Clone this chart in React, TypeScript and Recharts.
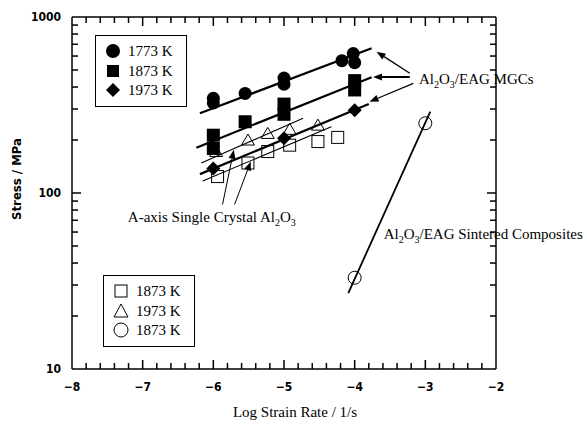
import { ComposedChart, Line, Scatter, XAxis, YAxis, ReferenceLine, ReferenceDot, Label } from 'recharts'

// tick values
const xTicks = [-8, -7, -6, -5, -4, -3, -2]
const xMinorTicks = [
  -7.8, -7.6, -7.4, -7.2, -6.8, -6.6, -6.4, -6.2, -5.8, -5.6, -5.4, -5.2,
  -4.8, -4.6, -4.4, -4.2, -3.8, -3.6, -3.4, -3.2, -2.8, -2.6, -2.4, -2.2,
]
const yTicks = [10, 100, 1000]
const yMinorTicks = [20, 30, 40, 50, 60, 70, 80, 90, 200, 300, 400, 500, 600, 700, 800, 900]

// Al2O3/EAG MGCs
const mgc1773 = [
  { x: -6, y: 345 }, { x: -6, y: 325 }, { x: -5.55, y: 368 }, { x: -5, y: 450 },
  { x: -5, y: 415 }, { x: -4.18, y: 565 }, { x: -4.02, y: 620 }, { x: -4, y: 550 },
]
const mgc1873 = [
  { x: -6, y: 213 }, { x: -6, y: 179 }, { x: -5.55, y: 254 }, { x: -5, y: 320 },
  { x: -5, y: 280 }, { x: -4, y: 435 }, { x: -4, y: 385 },
]
const mgc1973 = [{ x: -6, y: 138 }, { x: -5, y: 205 }, { x: -4, y: 295 }]

// A-axis single crystal
const sc1873 = [
  { x: -5.94, y: 124 }, { x: -5.51, y: 148 }, { x: -5.23, y: 172 },
  { x: -4.92, y: 187 }, { x: -4.52, y: 196 }, { x: -4.24, y: 207 },
]
const sc1973 = [
  { x: -5.96, y: 172 }, { x: -5.51, y: 200 }, { x: -5.23, y: 218 },
  { x: -4.92, y: 230 }, { x: -4.52, y: 243 },
]

// sintered composites
const sint1873 = [{ x: -4, y: 33 }, { x: -3, y: 249 }]

// fitted lines
const fit1773 = [{ x: -6.19, y: 284 }, { x: -3.76, y: 664 }]
const fit1873 = [{ x: -6.24, y: 181 }, { x: -3.76, y: 455 }]
const fit1973 = [{ x: -6.19, y: 128 }, { x: -3.8, y: 320 }]
const fitSc1973 = [{ x: -6.17, y: 148 }, { x: -4.73, y: 266 }]
const fitSc1873 = [{ x: -6.15, y: 117 }, { x: -4.33, y: 238 }]
const fitSint = [{ x: -4.09, y: 27 }, { x: -2.93, y: 290 }]

// annotation arrows [from, to]
const mgcArrows = [
  [{ x: -3.22, y: 479 }, { x: -3.69, y: 635 }],
  [{ x: -3.22, y: 456 }, { x: -3.74, y: 456 }],
  [{ x: -3.17, y: 420 }, { x: -3.79, y: 330 }],
]
const scArrows = [
  [{ x: -5.87, y: 86 }, { x: -5.71, y: 176 }],
  [{ x: -5.7, y: 86 }, { x: -5.47, y: 151 }],
]

const serif = "'Liberation Serif', 'Times New Roman', serif"
const tickFont = "'DejaVu Sans Condensed', 'Liberation Sans Narrow', sans-serif"

const filledCircle = (p: any) => <circle cx={p.cx} cy={p.cy} r={6.5} fill="#000" />
const filledSquare = (p: any) => <rect x={p.cx - 6.5} y={p.cy - 6.5} width={13} height={13} fill="#000" />
const filledDiamond = (p: any) => (
  <polygon points={`${p.cx},${p.cy - 7} ${p.cx + 7},${p.cy} ${p.cx},${p.cy + 7} ${p.cx - 7},${p.cy}`} fill="#000" />
)
const openSquare = (p: any) => (
  <rect x={p.cx - 6} y={p.cy - 6} width={12} height={12} fill="none" stroke="#000" strokeWidth={1} />
)
const openTriangle = (p: any) => (
  <polygon points={`${p.cx},${p.cy - 6} ${p.cx + 6.5},${p.cy + 5} ${p.cx - 6.5},${p.cy + 5}`} fill="none" stroke="#000" strokeWidth={1} />
)
const openCircle = (p: any) => <circle cx={p.cx} cy={p.cy} r={6.5} fill="none" stroke="#000" strokeWidth={1} />

// inward ticks at both ends of a full-span segment
const endTicks = (len: number) => (p: any) => {
  const { x1, y1, x2, y2 } = p
  const d = Math.hypot(x2 - x1, y2 - y1) || 1
  const ux = ((x2 - x1) / d) * len
  const uy = ((y2 - y1) / d) * len
  return (
    <g>
      <line x1={x1} y1={y1} x2={x1 + ux} y2={y1 + uy} stroke="#000" strokeWidth={1.5} />
      <line x1={x2} y1={y2} x2={x2 - ux} y2={y2 - uy} stroke="#000" strokeWidth={1.5} />
    </g>
  )
}
const xSeg = (v: number) => [{ x: v, y: 10 }, { x: v, y: 1000 }]
const ySeg = (v: number) => [{ x: -8, y: v }, { x: -2, y: v }]

const arrow = (w: number) => (p: any) => {
  const { x1, y1, x2, y2 } = p
  const a = Math.atan2(y2 - y1, x2 - x1)
  const L = 9
  const W = 3.5
  const bx = x2 - L * Math.cos(a)
  const by = y2 - L * Math.sin(a)
  const pts = `${x2},${y2} ${bx + W * Math.sin(a)},${by - W * Math.cos(a)} ${bx - W * Math.sin(a)},${by + W * Math.cos(a)}`
  return (
    <g>
      <line x1={x1} y1={y1} x2={bx} y2={by} stroke="#000" strokeWidth={w} />
      <polygon points={pts} fill="#000" />
    </g>
  )
}

// Al2O3 with subscripts, then the rest of the label
const chem = (pre: string, rest: string) => (p: any) => (
  <text x={p.cx} y={p.cy} fontFamily={serif} fontSize={15} fill="#000">
    {pre}Al<tspan dy={4} fontSize={10}>2</tspan>
    <tspan dy={-4}>O</tspan>
    <tspan dy={4} fontSize={10}>3</tspan>
    <tspan dy={-4}>{rest}</tspan>
  </text>
)

const frame = { stroke: '#000', strokeWidth: 1.5 }
const tickStyle = { fontFamily: tickFont, fontSize: 12, fontWeight: 'bold', fill: '#000' }
const minus = (v: number) => String(v).replace('-', '\u2212')

function LegendBox({ left, top, items }: { left: number; top: number; items: [string, string][] }) {
  return (
    <div style={{ position: 'absolute', left, top, width: 92, height: 72, border: '1px solid #000', boxSizing: 'border-box', background: '#fff' }}>
      {items.map(([sym, text], i) => (
        <div key={i} style={{ position: 'absolute', left: 8, top: 6 + i * 19.5, height: 18, display: 'flex', alignItems: 'center' }}>
          <svg width={18} height={18}>
            {sym === 'fc' && <circle cx={9} cy={9} r={7} fill="#000" />}
            {sym === 'fs' && <rect x={3} y={3} width={12} height={12} fill="#000" />}
            {sym === 'fd' && <polygon points="9,2 16,9 9,16 2,9" fill="#000" />}
            {sym === 'os' && <rect x={3} y={3} width={12} height={12} fill="none" stroke="#000" />}
            {sym === 'ot' && <polygon points="9,2 16,15 2,15" fill="none" stroke="#000" />}
            {sym === 'oc' && <circle cx={9} cy={9} r={7} fill="none" stroke="#000" />}
          </svg>
          <span style={{ marginLeft: 6, fontFamily: serif, fontSize: 15, lineHeight: '18px' }}>{text}</span>
        </div>
      ))}
    </div>
  )
}

export default function App() {
  return (
    <div style={{ position: 'absolute', left: 0, top: 0, width: 587, height: 429, background: '#fff' }}>
      <ComposedChart width={587} height={429} margin={{ top: 17, right: 91, bottom: 0, left: 0 }}>
        <XAxis
          dataKey="x"
          type="number"
          domain={[-8, -2]}
          ticks={xTicks}
          allowDataOverflow
          tickLine={false}
          axisLine={frame}
          tickMargin={7}
          tick={tickStyle}
          tickFormatter={minus}
          height={60}
        >
          <Label
            content={({ viewBox }: any) => (
              <text x={viewBox.x + viewBox.width / 2 + 11} y={viewBox.y + 48} textAnchor="middle" fontFamily={serif} fontSize={15} fill="#000">
                Log Strain Rate / 1/s
              </text>
            )}
          />
        </XAxis>
        <YAxis
          type="number"
          scale="log"
          domain={[10, 1000]}
          ticks={yTicks}
          allowDataOverflow
          tickLine={false}
          axisLine={frame}
          tickMargin={5}
          tick={tickStyle}
          width={72}
        >
          <Label
            content={({ viewBox }: any) => {
              const cx = viewBox.x + 21
              const cy = viewBox.y + viewBox.height / 2 - 14
              return (
                <text x={cx} y={cy} transform={`rotate(-90 ${cx} ${cy})`} textAnchor="middle" fontFamily={tickFont} fontWeight="bold" fontSize={13} fill="#000">
                  Stress / MPa
                </text>
              )
            }}
          />
        </YAxis>

        <ReferenceLine y={1000} stroke="#000" strokeWidth={1.5} />
        <ReferenceLine x={-2} stroke="#000" strokeWidth={1.5} />
        {xTicks.slice(1, -1).map((v) => <ReferenceLine key={`xt${v}`} segment={xSeg(v)} shape={endTicks(9)} ifOverflow="visible" />)}
        {xMinorTicks.map((v) => <ReferenceLine key={`xm${v}`} segment={xSeg(v)} shape={endTicks(6)} ifOverflow="visible" />)}
        {yTicks.slice(1, -1).map((v) => <ReferenceLine key={`yt${v}`} segment={ySeg(v)} shape={endTicks(9)} ifOverflow="visible" />)}
        {yMinorTicks.map((v) => <ReferenceLine key={`ym${v}`} segment={ySeg(v)} shape={endTicks(6)} ifOverflow="visible" />)}

        <Line data={fitSc1973} dataKey="y" type="linear" stroke="#000" strokeWidth={1.1} dot={false} isAnimationActive={false} />
        <Line data={fitSc1873} dataKey="y" type="linear" stroke="#000" strokeWidth={1.1} dot={false} isAnimationActive={false} />

        <Scatter data={sc1873} dataKey="y" shape={openSquare} isAnimationActive={false} />
        <Scatter data={sc1973} dataKey="y" shape={openTriangle} isAnimationActive={false} />
        <Scatter data={sint1873} dataKey="y" shape={openCircle} isAnimationActive={false} />
        <Scatter data={mgc1773} dataKey="y" shape={filledCircle} isAnimationActive={false} />
        <Scatter data={mgc1873} dataKey="y" shape={filledSquare} isAnimationActive={false} />
        <Scatter data={mgc1973} dataKey="y" shape={filledDiamond} isAnimationActive={false} />

        <Line data={fit1773} dataKey="y" type="linear" stroke="#000" strokeWidth={2.2} dot={false} isAnimationActive={false} />
        <Line data={fit1873} dataKey="y" type="linear" stroke="#000" strokeWidth={2.2} dot={false} isAnimationActive={false} />
        <Line data={fit1973} dataKey="y" type="linear" stroke="#000" strokeWidth={2.2} dot={false} isAnimationActive={false} />
        <Line data={fitSint} dataKey="y" type="linear" stroke="#000" strokeWidth={1.8} dot={false} isAnimationActive={false} />

        {mgcArrows.map((s, i) => <ReferenceLine key={`ma${i}`} segment={s} shape={arrow(i === 1 ? 2 : 1.3)} />)}
        {scArrows.map((s, i) => <ReferenceLine key={`sa${i}`} segment={s} shape={arrow(1)} />)}

        <ReferenceDot x={-3.09} y={416} r={0} shape={chem('', '/EAG MGCs')} />
        <ReferenceDot x={-3.59} y={55} r={0} shape={chem('', '/EAG Sintered Composites')} ifOverflow="visible" />
        <ReferenceDot x={-7.21} y={68} r={0} shape={chem('A-axis Single Crystal ', '')} />
      </ComposedChart>

      <LegendBox left={95} top={35} items={[['fc', '1773 K'], ['fs', '1873 K'], ['fd', '1973 K']]} />
      <LegendBox left={103} top={275} items={[['os', '1873 K'], ['ot', '1973 K'], ['oc', '1873 K']]} />
    </div>
  )
}
